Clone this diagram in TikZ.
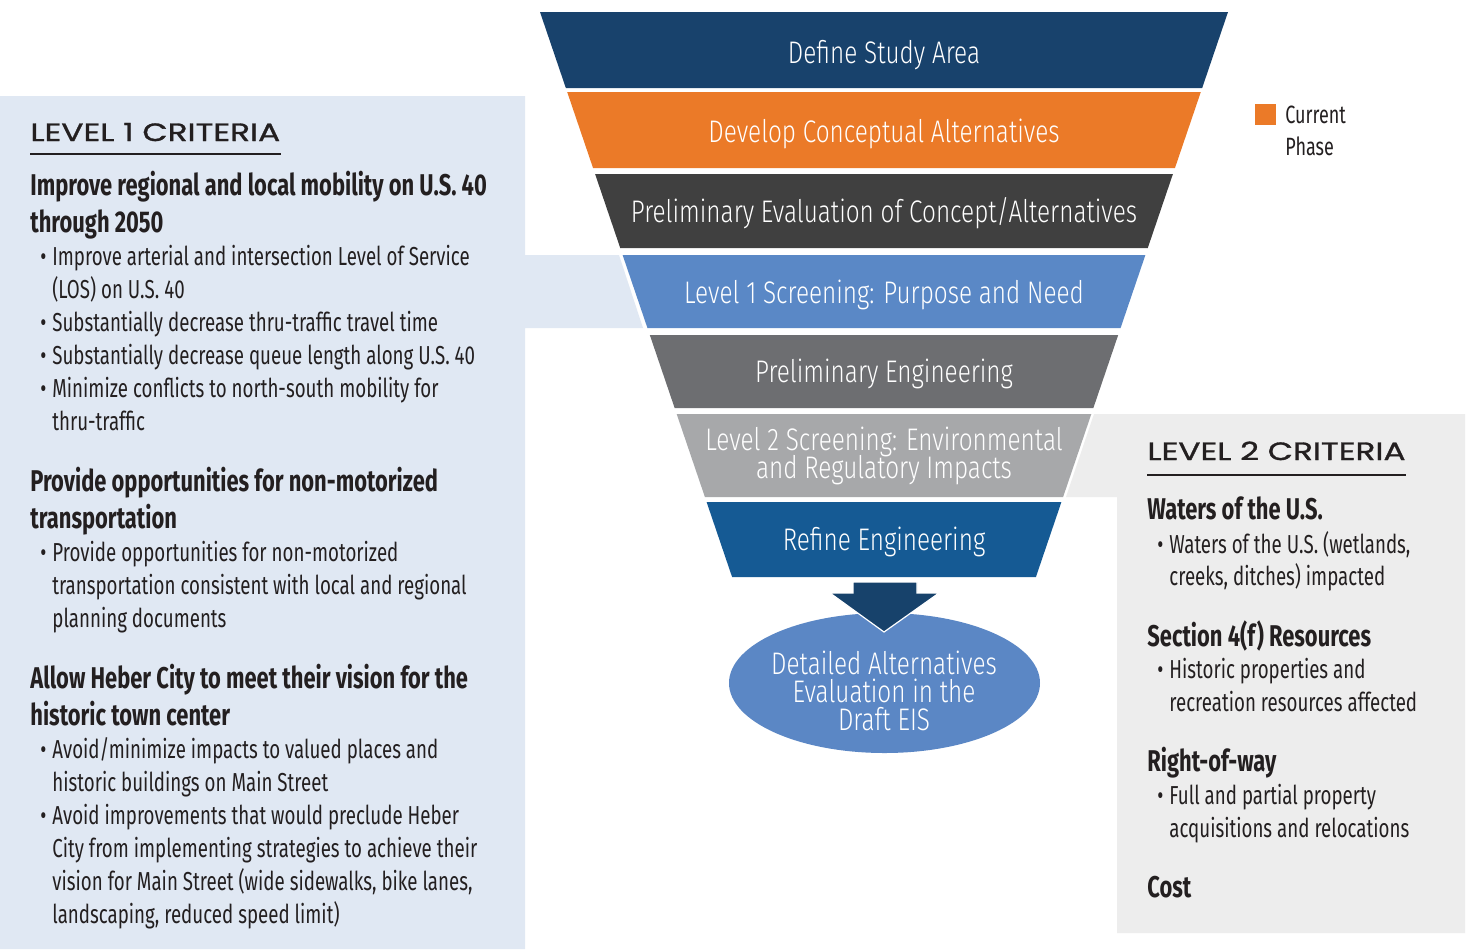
\documentclass[tikz,border=0pt]{standalone}
\usepackage{fontspec}
\setmainfont{Fira Sans}[FakeStretch=0.72]
\newfontfamily\headfont{Fira Sans}[FakeStretch=0.73]
\newfontfamily\stagefont{Fira Sans Light}[FakeStretch=0.78]
\newfontfamily\capsfont{Poppins}[FakeStretch=1.31, FakeBold=1.2]
\usetikzlibrary{shapes.geometric}

\definecolor{navy}{RGB}{24,66,108}
\definecolor{orng}{RGB}{235,122,40}
\definecolor{charcoal}{RGB}{64,64,64}
\definecolor{midblue}{RGB}{90,136,198}
\definecolor{slate}{RGB}{109,110,113}
\definecolor{silver}{RGB}{167,168,170}
\definecolor{deepblue}{RGB}{21,90,148}
\definecolor{arrowblue}{RGB}{23,66,107}
\definecolor{ovalblue}{RGB}{91,135,197}
\definecolor{paneblue}{RGB}{224,232,243}
\definecolor{panegray}{RGB}{237,237,237}
\definecolor{ink}{RGB}{35,31,32}

\newcommand{\blt}{\llap{\textbullet\hspace{3pt}}}

\begin{document}
\begin{tikzpicture}[x=0.5pt, y=-0.5pt,
    stagetxt/.style={white, font=\stagefont\fontsize{15.6}{18}\selectfont, anchor=base, inner sep=0, text height=10.5pt, text depth=2.5pt},
    headtxt/.style={ink, font=\headfont\bfseries\fontsize{15}{18}\selectfont, anchor=base west, inner sep=0},
    bodytxt/.style={ink, font=\fontsize{13}{16}\selectfont, anchor=base west, inner sep=0},
    capstxt/.style={ink, font=\capsfont\fontsize{12.5}{14}\selectfont, anchor=base west, inner sep=0}]
\useasboundingbox (0,0) rectangle (1468,949);
\fill[white] (0,0) rectangle (1468,949);

% criteria panels with their bands to the funnel
\fill[paneblue] (0,96) -- (525,96) -- (525,255) -- (619,255) -- (643,328) -- (525,328) -- (525,949) -- (0,949) -- cycle;
\fill[panegray] (1094,414) -- (1465,414) -- (1465,933) -- (1117,933) -- (1117,497) -- (1066,497) -- cycle;

% funnel
\foreach \ya/\yb/\col in {12/88/navy, 92/168/orng, 174/248/charcoal, 255/328/midblue, 335/408/slate, 414/497/silver, 502/577/deepblue} {
  \pgfmathsetmacro\wa{344-0.34*(\ya-12)}
  \pgfmathsetmacro\wb{344-0.34*(\yb-12)}
  \fill[\col] (884-\wa,\ya) -- (884+\wa,\ya) -- (884+\wb,\yb) -- (884-\wb,\yb) -- cycle;
}
\node[stagetxt] (define) at (884,63) {Define Study Area};
\node[stagetxt] (develop) at (884,142) {Develop Conceptual Alternatives};
\node[stagetxt] (prelim) at (884,222) {Preliminary Evaluation of Concept/Alternatives};
\node[stagetxt] (lvlone) at (884,303) {Level 1 Screening: Purpose and Need};
\node[stagetxt] (preleng) at (884,382) {Preliminary Engineering};
\node[stagetxt] (lvltwo) at (884,450) {Level 2 Screening: Environmental};
\node[stagetxt] (lvltwob) at (884,478) {and Regulatory Impacts};
\node[stagetxt] (refine) at (884,550) {Refine Engineering};

% final step
\node[ellipse, fill=ovalblue, minimum width=155.5pt, minimum height=70pt, inner sep=0] (eis) at (884.5,683) {};
\filldraw[fill=arrowblue, draw=white, line width=0.6pt] (853,582) -- (917,582) -- (917,593) -- (939,593) -- (884,632) -- (830,593) -- (853,593) -- cycle;
\foreach \yy/\t [count=\i] in {674/Detailed Alternatives, 702/Evaluation in the, 730/Draft EIS}
  \node[stagetxt] (eis\i) at (884,\yy) {\t};

% legend
\node[fill=orng, minimum size=10.5pt, inner sep=0] (key) at (1265.5,114.3) {};
\node[bodytxt, font=\fontsize{12.5}{15}\selectfont] (curr) at (1285,123.5) {Current};
\node[bodytxt, font=\fontsize{12.5}{15}\selectfont] (phase) at (1285,155) {Phase};

% level 1 criteria
\node[capstxt] (critone) at (30,141) {LEVEL 1 CRITERIA};
\draw[ink, line width=1pt] ([yshift=-6.5pt]critone.base west) -- ([yshift=-6.5pt]critone.base east);
\foreach \yy/\t [count=\i] in {195/{Improve regional and local mobility on U.S. 40}, 232/{through 2050},
    491/{Provide opportunities for non-motorized}, 528/{transportation},
    688/{Allow Heber City to meet their vision for the}, 725/{historic town center}}
  \node[headtxt] (lhead\i) at (30,\yy) {\t};
\foreach \yy/\t [count=\i] in {265/{\blt Improve arterial and intersection Level of Service}, 298/{(LOS) on U.S. 40},
    331/{\blt Substantially decrease thru-traffic travel time},
    364/{\blt Substantially decrease queue length along U.S. 40},
    397/{\blt Minimize conflicts to north-south mobility for}, 430/{thru-traffic},
    561/{\blt Provide opportunities for non-motorized}, 594/{transportation consistent with local and regional}, 627/{planning documents},
    758/{\blt Avoid/minimize impacts to valued places and}, 791/{historic buildings on Main Street},
    824/{\blt Avoid improvements that would preclude Heber}, 857/{City from implementing strategies to achieve their},
    890/{vision for Main Street (wide sidewalks, bike lanes,}, 923/{landscaping, reduced speed limit)}}
  \node[bodytxt] (lbody\i) at (52,\yy) {\t};

% level 2 criteria
\node[capstxt] (crittwo) at (1147,460) {LEVEL 2 CRITERIA};
\draw[ink, line width=1pt] ([yshift=-7.5pt]crittwo.base west) -- ([yshift=-7.5pt]crittwo.base east);
\foreach \yy/\t [count=\i] in {519/{Waters of the U.S.}, 646/{Section 4(f) Resources}, 771/{Right-of-way}, 897/{Cost}}
  \node[headtxt] (rhead\i) at (1147,\yy) {\t};
\foreach \yy/\t [count=\i] in {553/{\blt Waters of the U.S. (wetlands,}, 585/{creeks, ditches) impacted},
    678/{\blt Historic properties and}, 711/{recreation resources affected},
    804/{\blt Full and partial property}, 837/{acquisitions and relocations}}
  \node[bodytxt] (rbody\i) at (1169,\yy) {\t};
\end{tikzpicture}
\end{document}
